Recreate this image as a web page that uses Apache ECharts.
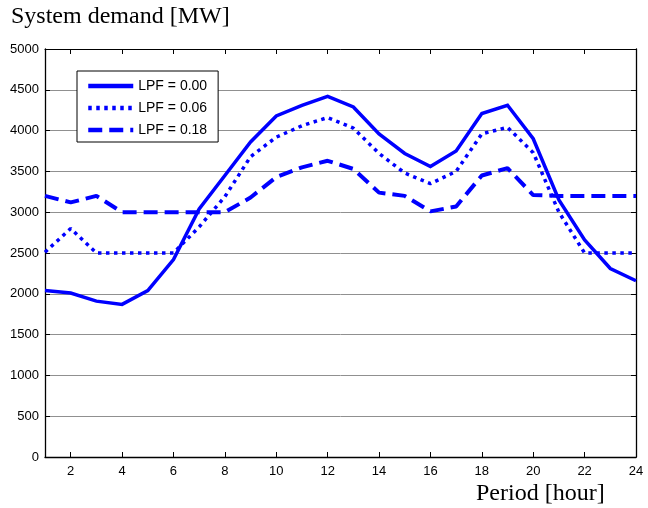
<!DOCTYPE html>
<html><head><meta charset="utf-8">
<script src="https://cdn.jsdelivr.net/npm/echarts@6/dist/echarts.min.js"></script>
<style>html,body{margin:0;padding:0;background:#fff}#c{width:648px;height:508px}</style>
</head><body><div id="c"></div>
<script>
const hours = [1,2,3,4,5,6,7,8,9,10,11,12,13,14,15,16,17,18,19,20,21,22,23,24];
const lpf000 = [2040,2010,1910,1870,2040,2420,3040,3450,3860,4180,4310,4420,4290,3960,3720,3560,3750,4210,4310,3900,3150,2660,2310,2160];
const lpf006 = [2510,2800,2500,2500,2500,2500,2820,3190,3680,3920,4060,4160,4030,3720,3480,3350,3500,3960,4040,3730,3000,2500,2500,2500];
const lpf018 = [3200,3120,3200,3000,3000,3000,3000,3000,3180,3430,3550,3630,3530,3240,3200,3010,3070,3450,3540,3210,3200,3200,3200,3200];
const xTickLabels = [2,4,6,8,10,12,14,16,18,20,22,24];
const seriesNames = ['LPF = 0.00','LPF = 0.06','LPF = 0.18'];

const blue = '#0000ff';
const pair = arr => hours.map((h,i)=>[h,arr[i]]);
const styles = [
  {color:blue, width:3.5, type:'solid', join:'miter'},
  {color:blue, width:3.5, type:[3.5,4.5], cap:'butt'},
  {color:blue, width:4, type:[14,7], cap:'butt'}
];
const chart = echarts.init(document.getElementById('c'), null, {renderer:'canvas'});
const tickFont = {fontFamily:'Liberation Sans, Arial, sans-serif', fontSize:13, color:'#000'};
chart.setOption({
  animation:false,
  backgroundColor:'#fff',
  grid:{left:45, right:12, top:49, bottom:51, show:false},
  graphic:[
    {type:'text', left:11, top:5, style:{text:'System demand [MW]', font:'24px "Liberation Serif", "Times New Roman", serif', fill:'#000'}},
    {type:'text', left:476, top:482, style:{text:'Period [hour]', font:'24px "Liberation Serif", "Times New Roman", serif', fill:'#000'}}
  ],
  legend:{
    orient:'vertical', left:77, top:71, padding:[8,11,5,9], itemGap:8, itemWidth:45, itemHeight:14,
    backgroundColor:'#fff', borderColor:'#000', borderWidth:1, borderRadius:0,
    itemStyle:{opacity:0},
    textStyle:{fontFamily:'Liberation Sans, Arial, sans-serif', fontSize:14, color:'#000'},
    data:seriesNames.map((n,i)=>({name:n, lineStyle:{width:4.5, type:styles[i].type, cap:'butt', color:blue}}))
  },
  xAxis:[
    {type:'value', min:1, max:24, position:'bottom',
     axisLine:{onZero:false, lineStyle:{color:'#000', width:1.3}},
     axisTick:{inside:true, length:5, customValues:xTickLabels, lineStyle:{color:'#000'}},
     axisLabel:{customValues:xTickLabels, margin:8, ...tickFont},
     splitLine:{show:false}},
    {type:'value', min:1, max:24, position:'top',
     axisLine:{onZero:false, lineStyle:{color:'#000', width:1}},
     axisTick:{inside:true, length:5, customValues:xTickLabels, lineStyle:{color:'#000'}},
     axisLabel:{show:false}, splitLine:{show:false}}
  ],
  yAxis:[
    {type:'value', min:0, max:5000, interval:500, position:'left',
     axisLine:{show:true, onZero:false, lineStyle:{color:'#000', width:1.3}},
     axisTick:{show:true, inside:true, length:5, lineStyle:{color:'#000'}},
     axisLabel:{margin:6, formatter:v=>String(v), ...tickFont},
     splitLine:{show:true, lineStyle:{color:'#909090', width:1}}},
    {type:'value', min:0, max:5000, interval:500, position:'right',
     axisLine:{show:true, onZero:false, lineStyle:{color:'#000', width:1.3}},
     axisTick:{show:true, inside:true, length:5, lineStyle:{color:'#000'}},
     axisLabel:{show:false}, splitLine:{show:false}}
  ],
  series:seriesNames.map((n,i)=>({
    name:n, type:'line', data:pair([lpf000,lpf006,lpf018][i]), symbol:'none',
    lineStyle:styles[i], itemStyle:{color:blue}
  }))
});
</script></body></html>
